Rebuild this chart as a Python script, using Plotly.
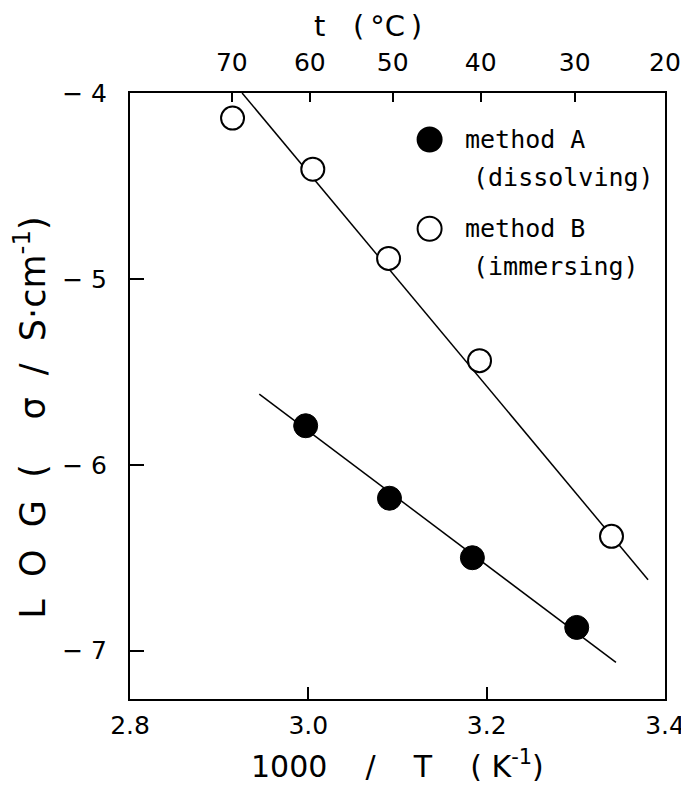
import plotly.graph_objects as go

# method A (dissolving) - filled circles
inv_t_a = [2.997, 3.091, 3.184, 3.301]
log_sigma_a = [-5.79, -6.18, -6.50, -6.875]
# method B (immersing) - open circles
inv_t_b = [2.915, 3.005, 3.090, 3.192, 3.340]
log_sigma_b = [-4.135, -4.41, -4.89, -5.44, -6.385]

# fitted lines (end points)
fit_a_x = [2.945, 3.345]
fit_a_y = [-5.62, -7.063]
fit_b_x = [2.9257, 3.381]
fit_b_y = [-4.0, -6.618]

x_ticks = [2.8, 3.0, 3.2, 3.4]
x_ticktext = ["2.8", "3.0", "3.2", "3.4"]
y_ticks = [-4, -5, -6, -7]
y_ticktext = ["\u2212\u00a04", "\u2212\u00a05", "\u2212\u00a06", "\u2212\u00a07"]
temps_c = [70, 60, 50, 40, 30, 20]

X_RANGE = [2.8, 3.4]
Y_RANGE = [-7.26, -4.0]

top_vals = [min(1000.0 / (t + 273.15), X_RANGE[1]) for t in temps_c]

SANS = "DejaVu Sans, sans-serif"
MONO = "DejaVu Sans Mono, monospace"
NB = "\u00a0"
THIN = "\u2009"

fig = go.Figure()

fig.add_trace(go.Scatter(
    x=fit_b_x, y=fit_b_y, mode="lines",
    line=dict(color="black", width=1.5), showlegend=False, hoverinfo="skip",
))
fig.add_trace(go.Scatter(
    x=fit_a_x, y=fit_a_y, mode="lines",
    line=dict(color="black", width=1.5), showlegend=False, hoverinfo="skip",
))
fig.add_trace(go.Scatter(
    x=inv_t_a, y=log_sigma_a, mode="markers", name="method A",
    marker=dict(symbol="circle", size=24, color="black",
                line=dict(color="black", width=1)),
    showlegend=False,
))
fig.add_trace(go.Scatter(
    x=inv_t_b, y=log_sigma_b, mode="markers", name="method B",
    marker=dict(symbol="circle", size=23, color="white",
                line=dict(color="black", width=2)),
    showlegend=False,
))
# invisible trace to carry the top temperature axis
fig.add_trace(go.Scatter(
    x=X_RANGE, y=Y_RANGE, xaxis="x2", mode="markers",
    marker=dict(opacity=0), showlegend=False, hoverinfo="skip",
))

# legend drawn by hand: keys + two-line labels
legend_keys = [
    (3.136, -4.25, "black", "method A", "(dissolving)"),
    (3.136, -4.73, "white", "method B", "(immersing)"),
]
for kx, ky, fill, line1, line2 in legend_keys:
    fig.add_shape(
        type="circle", xref="x", yref="y",
        xsizemode="pixel", ysizemode="pixel",
        xanchor=kx, yanchor=ky, x0=-12, x1=12, y0=-12, y1=12,
        fillcolor=fill, line=dict(color="black", width=2),
    )
    fig.add_annotation(
        x=kx + 0.037, y=ky, xref="x", yref="y", text=line1,
        showarrow=False, xanchor="left", yanchor="middle",
        font=dict(family=MONO, size=25, color="black"),
    )
    fig.add_annotation(
        x=kx + 0.046, y=ky - 0.205, xref="x", yref="y", text=line2,
        showarrow=False, xanchor="left", yanchor="middle",
        font=dict(family=MONO, size=25, color="black"),
    )

# axis titles
fig.add_annotation(
    x=0.5, y=-0.108, xref="paper", yref="paper",
    text=f"1000{NB*4}/{NB*4}T{NB*4}({NB}K<sup>-1</sup>)",
    showarrow=False, xanchor="center", yanchor="middle",
    font=dict(family=SANS, size=30, color="black"),
)
fig.add_annotation(
    x=0.445, y=1.11, xref="paper", yref="paper",
    text=f"t{NB*3}({THIN}\u00b0C{THIN})",
    showarrow=False, xanchor="center", yanchor="middle",
    font=dict(family=SANS, size=29, color="black"),
)
fig.add_annotation(
    x=-0.186, y=0.465, xref="paper", yref="paper",
    text=(f"L{NB*2}O{NB*2}G{NB*2}({NB*4}\u03c3{NB*2}/{NB*2}"
          f"S\u00b7cm<sup>-1</sup>)"),
    showarrow=False, xanchor="center", yanchor="middle", textangle=-90,
    font=dict(family=SANS, size=35, color="black"),
)

fig.update_layout(
    width=689, height=789,
    margin=dict(l=122, r=17, t=85, b=98),
    paper_bgcolor="white", plot_bgcolor="white",
    showlegend=False,
    xaxis=dict(
        range=X_RANGE, tickvals=x_ticks, ticktext=x_ticktext,
        ticks="inside", ticklen=12, tickwidth=1.5, tickcolor="black",
        showline=True, linecolor="black", linewidth=2, mirror=False,
        showgrid=False, zeroline=False, ticklabelstandoff=3,
        tickfont=dict(family=SANS, size=25, color="black"),
    ),
    xaxis2=dict(
        range=X_RANGE, overlaying="x", side="top",
        tickvals=top_vals, ticktext=[str(t) for t in temps_c],
        ticks="inside", ticklen=9, tickwidth=1.5, tickcolor="black",
        showline=True, linecolor="black", linewidth=2,
        showgrid=False, zeroline=False, ticklabelstandoff=10,
        tickfont=dict(family=SANS, size=25, color="black"),
    ),
    yaxis=dict(
        range=Y_RANGE, tickvals=y_ticks, ticktext=y_ticktext,
        ticks="inside", ticklen=14, tickwidth=1.5, tickcolor="black",
        showline=True, linecolor="black", linewidth=2, mirror=True,
        showgrid=False, zeroline=False, ticklabelstandoff=16,
        tickfont=dict(family=SANS, size=25, color="black"),
    ),
)

fig.write_html("out.html")
